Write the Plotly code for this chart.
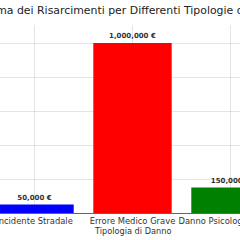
import plotly.graph_objects as go

categories = ["Incidente Stradale", "Errore Medico Grave", "Danno Psicologico Grave"]
values = [50000, 1000000, 150000]
colors = ["#0000ff", "#ff0000", "#008000"]
labels = [f"{v:,} €" for v in values]
title_text = "Confronto della Somma dei Risarcimenti per Differenti Tipologie di Danno"
x_title = "Tipologia di Danno"

fig = go.Figure()
fig.add_trace(go.Bar(
    x=list(range(len(categories))), y=values, marker_color=colors, width=0.8,
    text=labels, textposition="outside", cliponaxis=False,
    textfont=dict(family="DejaVu Sans", size=7, color="#333333", weight="bold"),
    marker_line_width=0,
))
grid = "rgba(170,170,170,0.3)"
fig.update_layout(
    width=240, height=240,
    margin=dict(l=0, r=0, t=25, b=27),
    plot_bgcolor="white", paper_bgcolor="white",
    showlegend=False,
    font=dict(family="DejaVu Sans", color="#333333"),
    xaxis=dict(
        range=[-0.352, 2.097], tickmode="array", tickvals=list(range(len(categories))),
        ticktext=categories, tickfont=dict(size=8.4, color="#333333"),
        ticklabeloverflow="allow",
        showgrid=True, gridcolor=grid, gridwidth=1, layer="above traces",
        showline=True, linecolor="#666666", linewidth=1, ticks="",
        automargin=False,
    ),
    yaxis=dict(
        range=[0, 1106000], tickvals=[0, 200000, 400000, 600000, 800000, 1000000],
        showticklabels=False, showgrid=True, gridcolor=grid, gridwidth=1,
        layer="above traces",
        zeroline=False, automargin=False,
    ),
    annotations=[
        dict(
            text=title_text, xref="paper", yref="paper", x=-0.487, y=1.0, yshift=15,
            xanchor="left", yanchor="middle", showarrow=False,
            font=dict(family="DejaVu Sans", size=10.9, color="#222222"),
        ),
        dict(
            text=x_title, xref="x", yref="paper", x=1, y=0, yshift=-18,
            xanchor="center", yanchor="middle", showarrow=False,
            font=dict(family="DejaVu Sans", size=8.2, color="#333333"),
        ),
    ],
)
fig.write_html("out.html")
